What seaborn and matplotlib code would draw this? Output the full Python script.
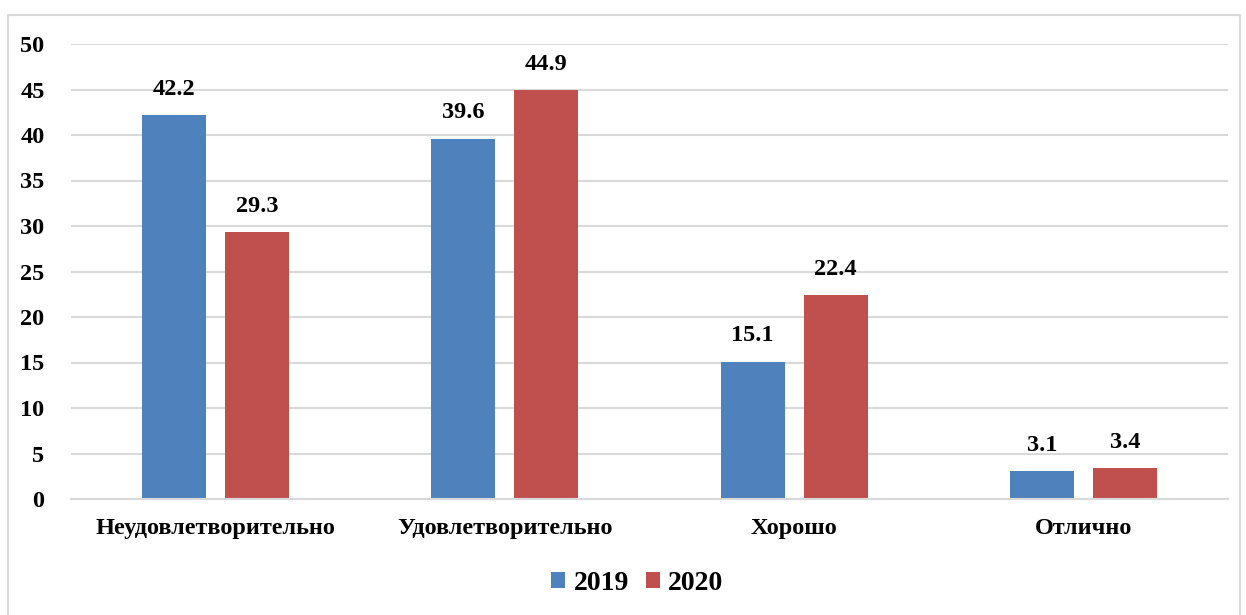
import pandas as pd
import numpy as np
import matplotlib.pyplot as plt
import seaborn as sns
from matplotlib.patches import Rectangle

categories = ['Неудовлетворительно', 'Удовлетворительно', 'Хорошо', 'Отлично']
years = ['2019', '2020']
vals_2019 = [42.2, 39.6, 15.1, 3.1]
vals_2020 = [29.3, 44.9, 22.4, 3.4]
yticks = [0, 5, 10, 15, 20, 25, 30, 35, 40, 45, 50]

df = pd.DataFrame({
    'cat': categories * 2,
    'year': [years[0]] * 4 + [years[1]] * 4,
    'val': vals_2019 + vals_2020,
})

sns.set_style('white')
plt.rcParams['font.family'] = ['Liberation Serif', 'DejaVu Serif']
plt.rcParams['font.weight'] = 'bold'
plt.rcParams['text.color'] = 'black'

fig = plt.figure(figsize=(12.46, 6.15), dpi=100)
ax = fig.add_axes([71 / 1246, 1 - 499 / 615, (1228 - 71) / 1246, (499 - 44) / 615])

# outer chart frame
fig.patches.append(Rectangle((8 / 1246, -0.01), (1240 - 8) / 1246, 1 - 15 / 615 + 0.01,
                             transform=fig.transFigure, fill=False,
                             edgecolor='#D9D9D9', linewidth=1.5, zorder=0))

pal = {'2019': '#4F81BD', '2020': '#C0504D'}
sns.barplot(data=df, x='cat', y='val', hue='year', palette=pal, ax=ax,
            width=0.575, gap=0.23, saturation=1, linewidth=0, legend=True)

ax.set_ylim(0, 50)
ax.set_xlim(-0.5, 3.5)
ax.set_yticks(yticks)
ax.yaxis.grid(True, color='#D9D9D9', linewidth=1.5)
ax.set_axisbelow(True)
for s in ['top', 'right', 'left']:
    ax.spines[s].set_visible(False)
ax.spines['bottom'].set_color('#D9D9D9')
ax.spines['bottom'].set_linewidth(1.5)
ax.set_xlabel('')
ax.set_ylabel('')
ax.tick_params(axis='both', length=0, labelsize=17.5, labelcolor='black')
ax.tick_params(axis='y', pad=19)
ax.tick_params(axis='x', pad=14)
for lab in ax.get_xticklabels() + ax.get_yticklabels():
    lab.set_fontweight('bold')

for cont in ax.containers:
    ax.bar_label(cont, labels=[f'{v:.1f}' for v in cont.datavalues], padding=11,
                 fontsize=17.5, fontweight='bold', color='black')

leg = ax.legend(loc='center', bbox_to_anchor=(0.4895, -0.185), ncol=2, frameon=False,
                prop={'size': 20, 'weight': 'bold'}, handlelength=0.5, handleheight=0.5,
                handletextpad=0.3, columnspacing=0.6)
for t in leg.get_texts():
    t.set_color('black')

fig.savefig('out.png', dpi=100)
